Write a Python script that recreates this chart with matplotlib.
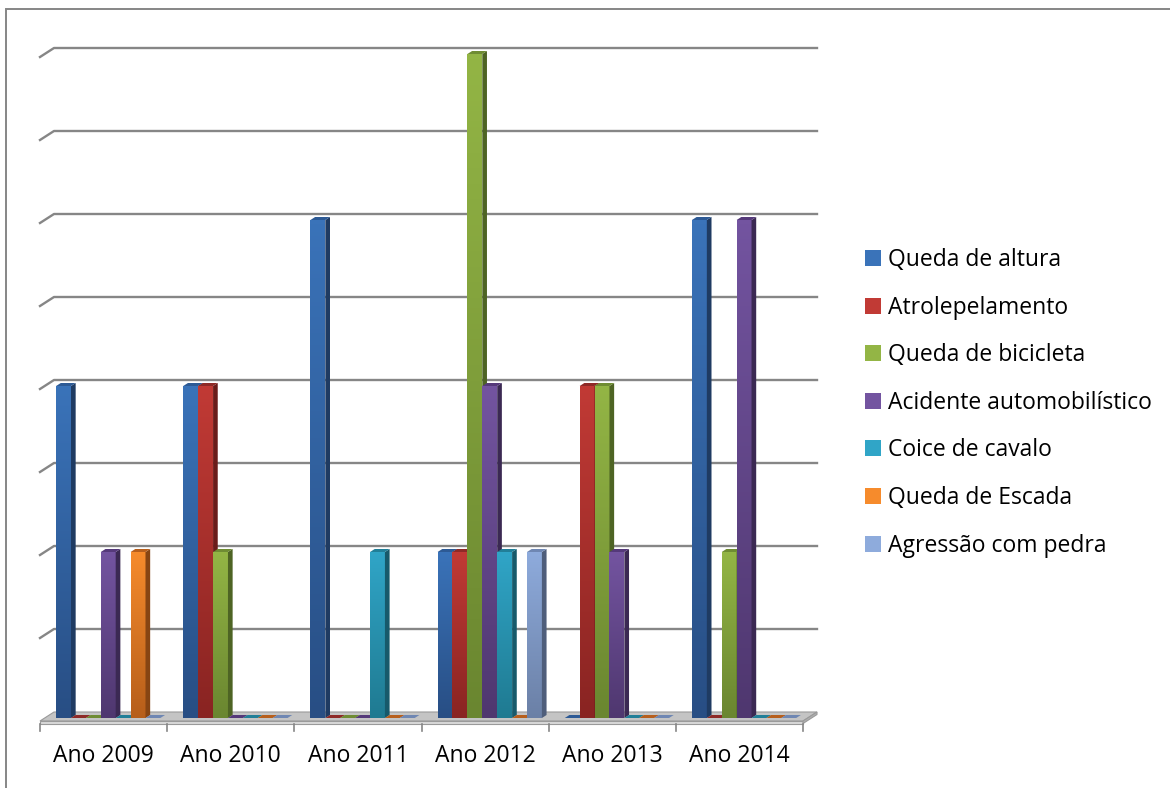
import matplotlib.pyplot as plt
import numpy as np
from matplotlib.patches import Polygon, Rectangle
from matplotlib.colors import LinearSegmentedColormap

plt.rcParams['font.family'] = 'Open Sans'

# Ocorrências por ano
anos = ['Ano 2009', 'Ano 2010', 'Ano 2011', 'Ano 2012', 'Ano 2013', 'Ano 2014']
causas = ['Queda de altura', 'Atrolepelamento', 'Queda de bicicleta',
          'Acidente automobilístico', 'Coice de cavalo', 'Queda de Escada',
          'Agressão com pedra']
queda_altura = [2, 2, 3, 1, 0, 3]
atropelamento = [0, 2, 0, 1, 2, 0]
queda_bicicleta = [0, 1, 0, 4, 2, 1]
acidente_auto = [1, 0, 0, 2, 1, 3]
coice_cavalo = [0, 0, 1, 1, 0, 0]
queda_escada = [1, 0, 0, 0, 0, 0]
agressao_pedra = [0, 0, 0, 1, 0, 0]
valores = [queda_altura, atropelamento, queda_bicicleta, acidente_auto,
           coice_cavalo, queda_escada, agressao_pedra]

# cores das faces (frente topo/base, lateral, tampa)
cor_cima = ['#3A73B9', '#C13A35', '#93B545', '#7354A0', '#30A5C7', '#F68B2C', '#8EABDC']
cor_baixo = ['#284E84', '#892422', '#6A8630', '#4F376F', '#1F7A91', '#B65E1A', '#6B80A6']
cor_lado = ['#1F3B62', '#6A1C1A', '#4E6424', '#3B2953', '#175A6B', '#874513', '#4F5E7B']
cor_tampa = ['#2D5A95', '#8E2A27', '#6F8C33', '#55397A', '#217F98', '#B75F1C', '#6F87B3']

W, H = 1170, 788
fig = plt.figure(figsize=(W / 100, H / 100), dpi=100)
ax = fig.add_axes([40 / W, (H - 718) / H, 763 / W, 664 / H])
ax.axis('off')

px_x = 763 / 6      # pixels por categoria
px_y = 166          # pixels por unidade
ddx, ddy = 14 / px_x, 9 / px_y      # profundidade do piso
yf = -3 / px_y                       # borda frontal do piso
esp = 2.5 / px_y                     # espessura do piso
bdx, bdy = ddx / 3, ddy / 3          # profundidade das barras
grade = '#868686'

# piso
ax.add_patch(Polygon([(0, yf), (6, yf), (6 + ddx, yf + ddy), (ddx, yf + ddy)],
                     closed=True, facecolor='#C4C4C4', edgecolor='#9A9A9A',
                     lw=0.8, zorder=1, clip_on=False))
ax.add_patch(Polygon([(0, yf - esp), (6, yf - esp), (6, yf), (0, yf)],
                     closed=True, facecolor='#DADADA', edgecolor='#9A9A9A',
                     lw=0.8, zorder=1, clip_on=False))
ax.add_patch(Polygon([(6, yf - esp), (6 + ddx, yf + ddy - esp), (6 + ddx, yf + ddy), (6, yf)],
                     closed=True, facecolor='#B0B0B0', edgecolor='#9A9A9A',
                     lw=0.8, zorder=1, clip_on=False))
for i in range(7):
    ax.plot([i, i], [yf - esp, yf - esp - 7 / px_y], color=grade, lw=1.2,
            clip_on=False, zorder=1)

# linhas de grade na parede do fundo
for g in np.arange(0.5, 4.01, 0.5):
    ax.plot([0, ddx, 6 + ddx], [g + yf, g + yf + ddy, g + yf + ddy],
            color=grade, lw=1.7, clip_on=False, zorder=0.5,
            solid_joinstyle='round')

# barras 3D
n = len(causas)
w = 14.9 / px_x
inicio = (1 - n * w) / 2 + bdx
z = 2
for i in range(len(anos)):
    for k in range(n):
        v = valores[k][i]
        x = i + inicio + k * w
        z += 1
        if v > 0:
            barra = ax.bar(x, v, w, align='edge', color=cor_baixo[k], lw=0,
                           zorder=z)[0]
            cmap = LinearSegmentedColormap.from_list('g', [cor_baixo[k], cor_cima[k]])
            img = ax.imshow(np.linspace(0, 1, 128).reshape(-1, 1), cmap=cmap,
                            extent=[x, x + w, 0, v], origin='lower',
                            aspect='auto', zorder=z)
            img.set_clip_path(barra)
            ax.add_patch(Polygon([(x + w, 0), (x + w + bdx, bdy), (x + w + bdx, v + bdy), (x + w, v)],
                                 closed=True, facecolor=cor_lado[k], lw=0,
                                 zorder=z, clip_on=False))
        ax.add_patch(Polygon([(x, v), (x + w, v), (x + w + bdx, v + bdy), (x + bdx, v + bdy)],
                             closed=True, facecolor=cor_tampa[k], lw=0,
                             zorder=z + 0.5, clip_on=False))

ax.set_xlim(0, 6)
ax.set_ylim(0, 4)

# rótulos das categorias
for i, ano in enumerate(anos):
    ax.text(i + 0.5, -38 / px_y, ano, ha='center', va='center', fontsize=16.5,
            color='black', clip_on=False)

# legenda
alcas = [Rectangle((0, 0), 1, 1, facecolor=cor_cima[k], edgecolor='none')
         for k in range(n)]
fig.legend(alcas, causas, loc='upper left',
           bbox_to_anchor=(865 / W, 1 - 248 / H), frameon=False, fontsize=16.5,
           handlelength=0.7, handleheight=0.7, handletextpad=0.3,
           labelspacing=1.03, borderpad=0, borderaxespad=0)

# moldura do gráfico
fig.patches.append(Rectangle((6 / W, -0.05), 1.1, 1 - 9 / H + 0.05,
                             transform=fig.transFigure, fill=False,
                             edgecolor=grade, lw=1.4))

fig.savefig('out.png', dpi=100)
